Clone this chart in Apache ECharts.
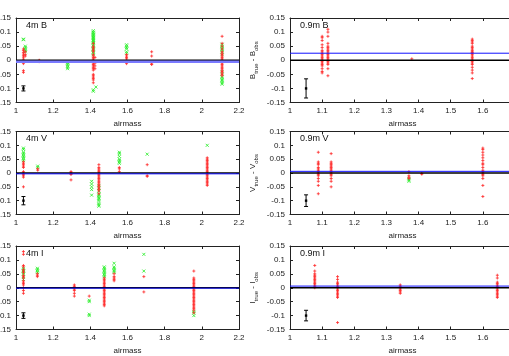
<!DOCTYPE html>
<html><head><meta charset="utf-8">
<script src="https://cdn.jsdelivr.net/npm/echarts@6/dist/echarts.min.js"></script>
<style>html,body{margin:0;padding:0;background:#fff}#c{width:509px;height:356px}</style>
</head><body><div id="c"></div>
<script>
// ---- data: [airmass, [residuals...]] columns ----
const red4mB = [[1.04,[0.04,0.035,0.028,0.022,0.016,0.011,0.004,-0.004,-0.012,-0.037,-0.043]],[1.05,[0.03,0.02,0.015]],[1.125,[0,-0.003,-0.005]],[1.416,[0.06,0.05,0.045,0.04,0.035,0.03,0.02,0.015,0.01,0.005,0,-0.005,-0.01,-0.015,-0.02,-0.025,-0.03,-0.035,-0.05,-0.055,-0.06,-0.065,-0.07,-0.08]],[1.425,[0.01,-0.01,-0.02,-0.03]],[1.595,[0.02,0.015,0.01,0.005,-0.012]],[1.73,[0.03,0.015,-0.013,-0.015]],[2.109,[0.085,0.06,0.05,0.04,0.03,0.025,0.02,0.015,0.01,0.005,0,-0.005,-0.01,-0.015,-0.02,-0.025,-0.03,-0.035,-0.04,-0.045,-0.05,-0.055]]];
const green4mB = [[1.04,[0.075,0.073]],[1.05,[0.05,0.045,0.04,0.035,0.03]],[1.278,[-0.005,-0.01,-0.015,-0.02,-0.025,-0.03]],[1.416,[0.105,0.1,0.097,0.093,0.09,0.087,0.083,0.08,0.077,0.073,0.07,0.067,0.063,0.06,0.055,0.05,0.045,0.04,0.035,0.03,0.025,0.02,-0.105,-0.11]],[1.43,[-0.095]],[1.595,[0.055,0.05,0.045,0.04,0.03,0.025]],[2.109,[0.057,0.05,0.045,0.04,0.035,0.03,0.02,-0.04,-0.05,-0.06,-0.065,-0.07,-0.075,-0.08,-0.085]]];
const red4mV = [[1.04,[0.04,0.035,0.03,0.025,0.02,0.005,0,-0.005,-0.01,-0.015,-0.05]],[1.117,[0.015,0.01]],[1.296,[0.005,0,-0.003,-0.005,-0.025]],[1.446,[0.03,0.02,0.015,0.01,0.005,0,-0.005,-0.01,-0.015,-0.02,-0.025,-0.03,-0.035,-0.04,-0.045,-0.05,-0.055,-0.06,-0.065,-0.075]],[1.556,[0.02,0.015,0.005]],[1.706,[0.03,-0.01,-0.012]],[2.029,[0.055,0.05,0.045,0.04,0.035,0.03,0.025,0.02,0.015,0.01,0.005,0,-0.005,-0.01,-0.015,-0.02,-0.025,-0.03,-0.035,-0.04,-0.045]]];
const green4mV = [[1.04,[0.09,0.085,0.075,0.07,0.065,0.06,0.055,0.05,0.045]],[1.117,[0.025,0.02]],[1.407,[-0.03,-0.04,-0.05,-0.06,-0.08]],[1.446,[-0.045,-0.055,-0.065,-0.075,-0.08,-0.085,-0.09,-0.095,-0.1,-0.11,-0.115,-0.12]],[1.556,[0.075,0.07,0.06,0.05,0.045,0.04,0.035]],[1.706,[0.068]],[2.029,[0.1]]];
const red4mI = [[1.04,[0.13,0.12,0.08,0.075,0.065,0.06,0.055,0.045,0.04,0.035,0.025,0.02,0.015,0.01,0,-0.01,-0.02]],[1.115,[0.05,0.045,0.04]],[1.314,[0.01,0.005,0,-0.005,-0.01,-0.02,-0.03]],[1.394,[-0.03]],[1.475,[0.035,0.03,0.025,0.02,0.015,0.01,0.005,0,-0.005,-0.01,-0.015,-0.02,-0.025,-0.03,-0.035,-0.04,-0.045,-0.05,-0.055,-0.06,-0.065]],[1.528,[0.05,0.04,0.035,0.03,0.025]],[1.688,[0.04,-0.015]],[1.957,[0.06,0.035,0.03,0.025,0.02,0.015,0.01,0.005,0,-0.005,-0.01,-0.015,-0.02,-0.025,-0.03,-0.035,-0.04,-0.045,-0.05,-0.055,-0.06,-0.065,-0.07,-0.075,-0.08,-0.09]]];
const green4mI = [[1.04,[0.07,0.065,0.06,0.055,0.05,0.04,0.03]],[1.115,[0.07,0.065,0.06,0.055]],[1.394,[-0.045,-0.05,-0.095,-0.1]],[1.475,[0.075,0.07,0.065,0.06,0.055,0.05,0.045,0.04]],[1.528,[0.088,0.075,0.07,0.065,0.06,0.055]],[1.688,[0.12,0.06]],[1.957,[-0.085,-0.09,-0.1]]];
const red09B = [[1.10,[0.085,0.08,0.07,0.055,0.045,0.035,0.03,0.025,0.02,0.015,0.01,0.005,0,-0.005,-0.01,-0.015,-0.02,-0.03,-0.04,-0.045]],[1.118,[0.11,0.1,0.085,0.06,0.05,0.045,0.04,0.035,0.03,0.025,0.02,0.015,0.01,0.005,0,-0.005,-0.01,-0.015,-0.03,-0.055]],[1.379,[0.005]],[1.567,[0.075,0.07,0.065,0.06,0.05,0.045,0.04,0.035,0.03,0.028,0.025,0.02,0.015,0.01,0.005,0,-0.005,-0.01,-0.015,-0.025,-0.035,-0.045,-0.065]]];
const green09B = [];
const red09V = [[1.088,[0.075,0.04,0.035,0.03,0.02,0.015,0.01,0.005,0,-0.005,-0.01,-0.02,-0.03,-0.045,-0.075]],[1.128,[0.07,0.04,0.035,0.03,0.025,0.02,0.015,0.01,0.005,0,-0.005,-0.01,-0.02,-0.03,-0.05]],[1.37,[0.005,-0.01,-0.015,-0.02]],[1.41,[-0.002,-0.004]],[1.60,[0.09,0.085,0.075,0.065,0.055,0.045,0.035,0.03,0.02,0.01,0.005,0,-0.005,-0.01,-0.02,-0.045,-0.085]]];
const green09V = [[1.37,[-0.02,-0.025,-0.03]]];
const red09I = [[1.077,[0.08,0.06,0.05,0.045,0.04,0.035,0.03,0.025,0.02,0.015,0.01,0.005,0]],[1.148,[0.04,0.03,0.02,0.015,0.01,0.005,0,-0.005,-0.01,-0.015,-0.02,-0.025,-0.03,-0.035,-0.125]],[1.343,[0.01,0.005,0,-0.005,-0.01,-0.015,-0.02]],[1.645,[0.045,0.035,0.02,0.015,0.01,0.005,0,-0.005,-0.01,-0.015,-0.02,-0.025,-0.03,-0.035]]];
const green09I = [];

const panelLabels = ['4m B','0.9m B','4m V','0.9m V','4m I','0.9m I'];
const yNames = ['', '{m|B}{s|true}{m| - B}{s|obs}', '', '{m|V}{s|true}{m| - V}{s|obs}', '', '{m|I}{s|true}{m| - I}{s|obs}'];
const blueY = [-0.005, 0.025, -0.003, 0.006, -0.0015, 0.006];
const errX = [1.04, 1.05, 1.04, 1.05, 1.04, 1.05];
const errY = [-0.1, -0.1, -0.1, -0.1, -0.1, -0.1];
const errHalf = [0.009, 0.034, 0.015, 0.021, 0.01, 0.019];
const xMinL = 1, xMaxL = 2.2, xStepL = 0.2;
const xMinR = 1, xMaxR = 1.7, xStepR = 0.1;
const yMin = -0.15, yMax = 0.15, yStep = 0.05;
const reds = [red4mB, red09B, red4mV, red09V, red4mI, red09I];
const greens = [green4mB, green09B, green4mV, green09V, green4mI, green09I];

function expand(cols){const out=[];cols.forEach(c=>c[1].forEach(v=>out.push([c[0],v])));return out;}

const FONT = 'Liberation Sans';
const tops = [18, 131.5, 246];
const heights = [84.5, 83, 83.5];
const grids=[], xAxes=[], yAxes=[], series=[], titles=[];
for(let i=0;i<6;i++){
  const row=Math.floor(i/2), col=i%2;
  const left = col===0?16:290;
  const width = col===0?223:225;
  grids.push({left:left, top:tops[row], width:width, height:heights[row], containLabel:false, outerBoundsMode:'none'});
  const xmin = col===0?xMinL:xMinR, xmax=col===0?xMaxL:xMaxR, xs=col===0?xStepL:xStepR;
  const tick = {show:true, inside:true, length:3, lineStyle:{color:'#222', width:1}};
  const line = {show:true, onZero:false, lineStyle:{color:'#222', width:1}};
  xAxes.push({gridIndex:i, type:'value', position:'bottom', min:xmin, max:xmax, interval:xs,
    axisLine:line, axisTick:tick, splitLine:{show:false},
    axisLabel:{show:true, margin:4, fontSize:8, color:'#222', fontFamily:FONT, hideOverlap:false},
    name:'airmass', nameLocation:'middle', nameGap:17, nameTextStyle:{fontSize:8, color:'#222', fontFamily:FONT}});
  xAxes.push({gridIndex:i, type:'value', position:'top', min:xmin, max:xmax, interval:xs,
    axisLine:line, axisTick:tick, splitLine:{show:false}, axisLabel:{show:false}});
  yAxes.push({gridIndex:i, type:'value', position:'left', min:yMin, max:yMax, interval:yStep,
    axisLine:line, axisTick:tick, splitLine:{show:false},
    axisLabel:{show:true, margin:5, fontSize:8, color:'#222', fontFamily:FONT},
    name:yNames[i], nameLocation:'middle', nameGap:31, nameRotate:90,
    nameTextStyle:{fontSize:8, color:'#222', fontFamily:FONT,
      rich:{m:{fontSize:8, color:'#222', fontFamily:FONT, lineHeight:12, verticalAlign:'middle'},
            s:{fontSize:6, color:'#222', fontFamily:FONT, lineHeight:12, verticalAlign:'bottom'}}}});
  yAxes.push({gridIndex:i, type:'value', position:'right', min:yMin, max:yMax, interval:yStep,
    axisLine:line, axisTick:tick, splitLine:{show:false}, axisLabel:{show:false}});
  const xi=2*i, yi=2*i;
  series.push({type:'scatter', xAxisIndex:xi, yAxisIndex:yi, data:expand(greens[i]),
    symbol:'path://M0,0L8,8M8,0L0,8', symbolSize:3, silent:true, z:2,
    itemStyle:{color:'rgba(0,0,0,0)', borderColor:'#22ee22', borderWidth:1}});
  series.push({type:'scatter', xAxisIndex:xi, yAxisIndex:yi, data:expand(reds[i]),
    symbol:'path://M0,4L8,4M4,0L4,8', symbolSize:3, silent:true, z:3,
    itemStyle:{color:'rgba(0,0,0,0)', borderColor:'#ff2828', borderWidth:1}});
  series.push({type:'line', xAxisIndex:xi, yAxisIndex:yi, data:[[xmin,0],[xmax,0]], showSymbol:false, silent:true, z:4,
    lineStyle:{color:'#000', width:1.5}});
  series.push({type:'line', xAxisIndex:xi, yAxisIndex:yi, data:[[xmin,blueY[i]],[xmax,blueY[i]]], showSymbol:false, silent:true, z:5,
    lineStyle:{color: i===0?'#7a7aff':'#1010ff', width: i===0?2.5:1}});
  series.push({type:'custom', xAxisIndex:xi, yAxisIndex:yi, silent:true, z:6,
    data:[[errX[i], errY[i], errY[i]-errHalf[i], errY[i]+errHalf[i]]],
    renderItem:function(params, api){
      const c=api.coord([api.value(0), api.value(1)]);
      const lo=api.coord([api.value(0), api.value(2)]);
      const hi=api.coord([api.value(0), api.value(3)]);
      const st={stroke:'#000', lineWidth:1};
      return {type:'group', children:[
        {type:'line', shape:{x1:c[0], y1:lo[1], x2:c[0], y2:hi[1]}, style:st},
        {type:'line', shape:{x1:c[0]-2, y1:lo[1], x2:c[0]+2, y2:lo[1]}, style:st},
        {type:'line', shape:{x1:c[0]-2, y1:hi[1], x2:c[0]+2, y2:hi[1]}, style:st},
        {type:'rect', shape:{x:c[0]-1.2, y:c[1]-1.2, width:2.4, height:2.4}, style:{fill:'#000'}}
      ]};
    }});
  titles.push({text:panelLabels[i], left: left+10, top: tops[row]+3,
    textStyle:{fontSize:9, fontWeight:'normal', color:'#111', fontFamily:FONT}, padding:0});
}
const chart = echarts.init(document.getElementById('c'), null, {renderer:'canvas'});
chart.setOption({animation:false, backgroundColor:'#fff', title:titles, grid:grids, xAxis:xAxes, yAxis:yAxes, series:series});
</script></body></html>
